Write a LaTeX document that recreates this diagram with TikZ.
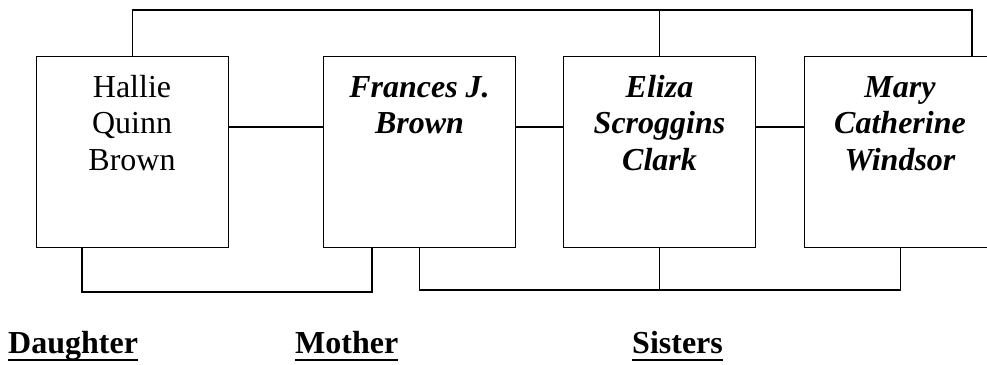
\documentclass[tikz,border=0pt]{standalone}
\usepackage{fontspec}
\setmainfont{Liberation Serif}
\begin{document}
\begin{tikzpicture}[x=1pt,y=-1pt,
  box/.style={draw,line width=1.4pt,minimum width=192pt,minimum height=191pt,anchor=north west,inner sep=0pt},
  nametext/.style={align=center,anchor=base,inner sep=0pt,font=\fontsize{32}{36.7}\selectfont},
  bnametext/.style={nametext,font=\fontsize{32}{36.7}\selectfont\bfseries\itshape},
  caption/.style={anchor=base west,inner sep=0pt,font=\fontsize{32}{36}\selectfont\bfseries},
  wire/.style={line width=1.3pt}]
\useasboundingbox (0,0) rectangle (987,364);
\fill[white] (0,0) rectangle (987,364);
% boxes
\node[box] (b1) at (36,56) {};
\node[box] (b2) at (323,56) {};
\node[box] (b3) at (563,56) {};
\node[box] (b4) at (804,56) {};
% names (anchored at the baseline of their last line)
\node[nametext]  (n1) at (132,170.4) {Hallie\\Quinn\\Brown};
\node[bnametext] (n2) at (419.5,133.7) {Frances J.\\Brown};
\node[bnametext] (n3) at (659.5,170.4) {Eliza\\Scroggins\\Clark};
\node[bnametext] (n4) at (900,170.4) {Mary\\Catherine\\Windsor};
% helper coordinates
\coordinate (top) at (0,10);
\coordinate (mid) at (0,127);
\coordinate (low1) at (0,292);
\coordinate (low2) at (0,290);
\coordinate (t4) at (972,56);
\coordinate (s1) at (82,247);
\coordinate (s2) at (372,247);
% top connector
\draw[wire] (b1.north) -- (b1.north |- top) -| (t4);
\draw[wire] (b3.north) -- (b3.north |- top);
% middle connectors
\draw[wire] (b1.east |- mid) -- (b2.west |- mid);
\draw[wire] (b2.east |- mid) -- (b3.west |- mid);
\draw[wire] (b3.east |- mid) -- (b4.west |- mid);
% bottom connectors
\draw[wire] (s1) -- (s1 |- low1) -| (s2);
\draw[wire] (b2.south) -- (b2.south |- low2) -| (b4.south);
\draw[wire] (b3.south) -- (b3.south |- low2);
% captions
\node[caption] (c1) at (8,353) {Daughter};
\node[caption] (c2) at (295,353) {Mother};
\node[caption] (c3) at (632,353) {Sisters};
\foreach \c in {c1,c2,c3}
  \draw[line width=1.5pt] ([yshift=-7pt]\c.base west) -- ([yshift=-7pt]\c.base east);
\end{tikzpicture}
\end{document}
